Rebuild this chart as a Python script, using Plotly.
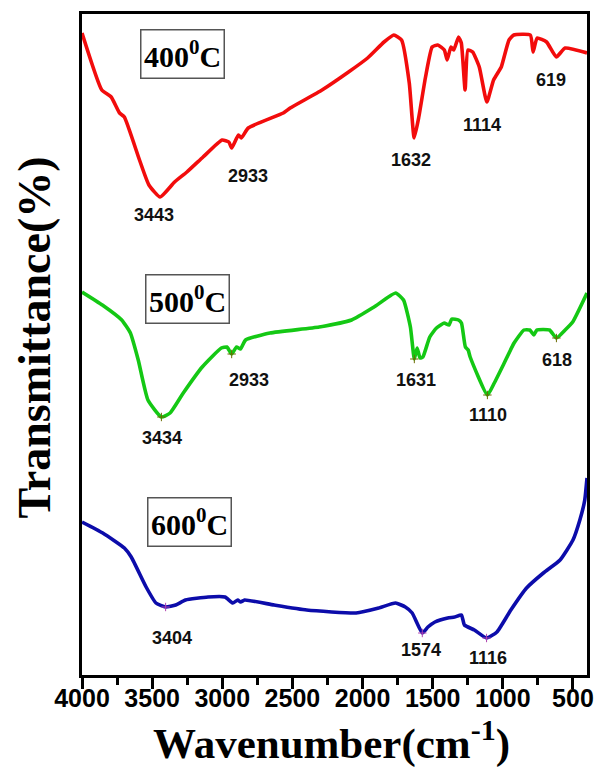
import plotly.graph_objects as go

# FTIR spectra of the samples calcined at three temperatures
# wavenumber (cm-1) and transmittance (a.u., curves stacked with offsets)
wn_400 = [4000, 3859, 3792, 3732, 3698, 3590, 3523, 3443, 3340, 3252, 3137, 3001,
          2953, 2933, 2885, 2864, 2815, 2565, 2516, 2289, 2100, 1964, 1847, 1777,
          1722, 1667, 1632, 1599, 1551, 1504, 1464, 1417, 1397, 1370, 1350, 1316,
          1296, 1269, 1249, 1215, 1168, 1114, 1066, 1032, 1011, 956, 922, 804,
          784, 756, 688, 619, 556, 400]
t_400 = [128.4, 117.0, 115.6, 112.4, 111.6, 103.0, 98.0, 95.6, 98.6, 100.6, 103.6, 107.0,
         106.6, 105.4, 108.0, 107.4, 109.4, 112.4, 113.4, 117.0, 120.6, 123.4, 126.6, 128.0,
         127.0, 118.4, 107.4, 111.6, 119.6, 125.6, 126.0, 125.0, 123.0, 125.6, 125.0, 127.6,
         126.4, 117.0, 125.0, 124.6, 121.6, 114.6, 119.0, 120.6, 121.6, 127.0, 128.0, 128.0,
         124.6, 127.4, 126.6, 123.6, 125.4, 124.4]

wn_500 = [4000, 3855, 3717, 3655, 3599, 3530, 3434, 3372, 3278, 3143, 3007, 2967,
          2933, 2898, 2870, 2834, 2660, 2309, 2078, 1918, 1764, 1708, 1659, 1631,
          1611, 1590, 1570, 1521, 1473, 1418, 1384, 1364, 1316, 1295, 1267, 1247,
          1233, 1110, 1061, 990, 920, 850, 808, 779, 758, 667, 618, 556, 502, 400]
t_500 = [76.6, 74.0, 71.0, 68.4, 63.0, 55.0, 51.6, 52.4, 56.4, 61.6, 65.4, 65.6,
         64.2, 65.6, 65.2, 67.0, 68.4, 69.6, 71.0, 73.6, 76.4, 75.0, 69.6, 63.2,
         65.4, 63.4, 63.6, 67.6, 69.4, 70.4, 70.0, 71.2, 71.0, 70.4, 65.6, 65.0,
         63.6, 56.0, 58.4, 62.4, 66.4, 69.0, 69.0, 68.0, 69.0, 69.0, 67.4, 69.0, 70.6, 76.4]

wn_600 = [4000, 3852, 3698, 3649, 3543, 3473, 3404, 3332, 3262, 3101, 2981, 2925,
          2890, 2869, 2841, 2630, 2398, 2046, 1885, 1765, 1695, 1646, 1574, 1534,
          1484, 1393, 1344, 1295, 1274, 1203, 1116, 1042, 943, 831, 711, 592,
          500, 451, 416, 400]
t_600 = [30.6, 28.4, 25.4, 23.6, 17.6, 14.4, 13.6, 14.0, 15.0, 15.6, 15.6, 14.4,
         15.0, 14.6, 15.0, 14.0, 13.0, 12.4, 13.4, 14.4, 13.6, 12.4, 8.4, 9.6,
         10.6, 11.4, 11.6, 12.0, 10.0, 9.0, 7.4, 8.6, 13.0, 17.4, 20.4, 23.0,
         27.0, 31.0, 35.0, 39.4]

# labelled band positions (cm-1)
peaks_400 = [3443, 2933, 1632, 1114, 619]
peaks_500 = [3434, 2933, 1631, 1110, 618]
peaks_600 = [3404, 1574, 1116]

sample_names = ["400<sup>0</sup>C", "500<sup>0</sup>C", "600<sup>0</sup>C"]
x_ticks = [4000, 3500, 3000, 2500, 2000, 1500, 1000, 500]
x_range = [4000, 400]

series = [
    (wn_400, t_400, peaks_400, "#f20c0c"),
    (wn_500, t_500, peaks_500, "#14c814"),
    (wn_600, t_600, peaks_600, "#0c0caa"),
]

# label placement: (y of the text, horizontal nudge in px) for each band label
label_place = [
    [(92.1, -6), (99.8, 16), (103.0, -3), (110.0, -5), (119.0, -5)],
    [(47.5, 1), (59.0, 17), (59.0, 2), (52.0, 1), (63.1, 1)],
    [(7.5, 6), (5.0, -1), (3.5, 1)],
]
# sample tag placement (wavenumber, transmittance) of the box centres
tag_place = [(3283, 124.3), (3245, 75.3), (3234, 30.6)]
marker_colors = ["#a05a00", "#6b6b00", "#b040b0"]

fig = go.Figure()
annotations = []
for i, (wn, t, peaks, col) in enumerate(series):
    fig.add_trace(go.Scatter(
        x=wn, y=t, mode="lines", showlegend=False, hoverinfo="skip",
        line=dict(color=col, width=3.6, shape="spline", smoothing=0.45),
    ))
    py = [t[wn.index(p)] for p in peaks]
    if i > 0:
        fig.add_trace(go.Scatter(
            x=peaks, y=py, mode="markers", showlegend=False, hoverinfo="skip",
            marker=dict(symbol="cross-thin", size=6,
                        line=dict(color=marker_colors[i], width=1)),
        ))
    for p, (ly, dx) in zip(peaks, label_place[i]):
        annotations.append(dict(
            x=p, y=ly, xref="x", yref="y", text=str(p), showarrow=False,
            xshift=dx, xanchor="center", yanchor="middle",
            font=dict(family="Liberation Sans, Arial", size=18, color="#111111",
                      weight="bold"),
        ))
    tx, ty = tag_place[i]
    annotations.append(dict(
        x=tx, y=ty, xref="x", yref="y", text="<b>" + sample_names[i] + "</b>",
        showarrow=False, xanchor="center", yanchor="middle",
        width=80, height=45, bordercolor="#555555", borderwidth=1.5,
        bgcolor="white",
        font=dict(family="Liberation Serif, Times New Roman", size=30, color="black"),
    ))

# axis titles
annotations.append(dict(
    x=0.494, y=-0.099, xref="paper", yref="paper", showarrow=False,
    text="<b>Wavenumber(cm<sup>-1</sup>)</b>", xanchor="center", yanchor="middle",
    font=dict(family="Liberation Serif, Times New Roman", size=43, color="black"),
))
annotations.append(dict(
    x=-0.094, y=0.51, xref="paper", yref="paper", showarrow=False,
    text="<b>Transmittance(%)</b>", textangle=-90, xanchor="center", yanchor="middle",
    font=dict(family="Liberation Serif, Times New Roman", size=46, color="black"),
))

# invisible carrier trace so the label axis is drawn
fig.add_trace(go.Scatter(x=x_range, y=[None, None], xaxis="x2", mode="lines",
                         showlegend=False, hoverinfo="skip"))

fig.update_layout(
    width=604, height=768,
    margin=dict(l=82, r=10, t=14, b=93),
    paper_bgcolor="white", plot_bgcolor="white",
    annotations=annotations,
    xaxis=dict(
        range=x_range, tickvals=x_ticks, showticklabels=False,
        ticks="outside", ticklen=11, tickwidth=3, tickcolor="black",
        minor=dict(ticks="outside", ticklen=7, tickwidth=3, tickcolor="black", dtick=250,
                   tick0=0),
        showline=True, linewidth=3, linecolor="black", mirror=True,
        showgrid=False, zeroline=False,
    ),
    # tick labels sit on a matching overlay axis so they hug the tick marks
    xaxis2=dict(
        range=x_range, overlaying="x", side="bottom", anchor="y",
        tickvals=x_ticks, ticktext=[str(v) for v in x_ticks],
        ticks="", showline=False, showgrid=False, zeroline=False,
        ticklabelstandoff=6,
        tickfont=dict(family="Liberation Sans, Arial", size=25, color="black",
                      weight="bold"),
    ),
    yaxis=dict(
        range=[0, 132.2], showticklabels=False, ticks="",
        showline=True, linewidth=3, linecolor="black", mirror=True,
        showgrid=False, zeroline=False,
    ),
)

fig.write_html("out.html")
